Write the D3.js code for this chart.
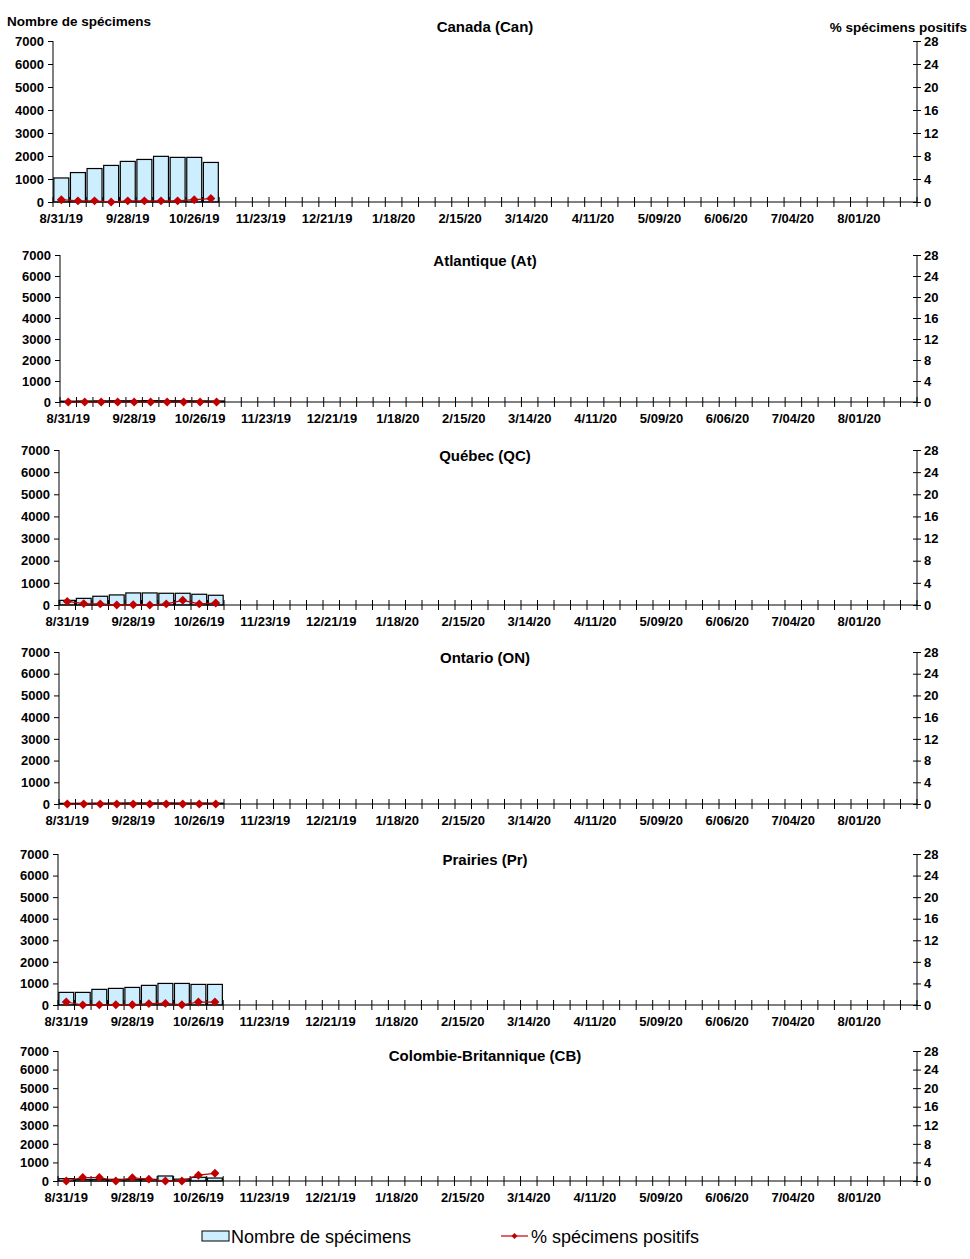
<!DOCTYPE html>
<html lang="fr">
<head>
<meta charset="utf-8">
<title>Spécimens</title>
<script src="https://cdn.jsdelivr.net/npm/d3@7/dist/d3.min.js"></script>
<style>
  body { margin: 0; background: #fff; }
  svg text { font-family: Arial, "Liberation Sans", sans-serif; }
</style>
</head>
<body>
<script>
// week-ending dates (x categories)
var weeks = ["8/31/19","9/07/19","9/14/19","9/21/19","9/28/19","10/05/19","10/12/19","10/19/19","10/26/19","11/02/19",
  "11/09/19","11/16/19","11/23/19","11/30/19","12/07/19","12/14/19","12/21/19","12/28/19","1/04/20","1/11/20",
  "1/18/20","1/25/20","2/01/20","2/08/20","2/15/20","2/22/20","2/29/20","3/07/20","3/14/20","3/21/20",
  "3/28/20","4/04/20","4/11/20","4/18/20","4/25/20","5/02/20","5/09/20","5/16/20","5/23/20","5/30/20",
  "6/06/20","6/13/20","6/20/20","6/27/20","7/04/20","7/11/20","7/18/20","7/25/20","8/01/20","8/08/20",
  "8/15/20","8/22/20"];
var tickLabels = ["8/31/19","9/28/19","10/26/19","11/23/19","12/21/19","1/18/20","2/15/20","3/14/20",
  "4/11/20","5/09/20","6/06/20","7/04/20","8/01/20"];
var leftTicks = [0, 1000, 2000, 3000, 4000, 5000, 6000, 7000];
var rightTicks = [0, 4, 8, 12, 16, 20, 24, 28];

var regions = ["Canada (Can)", "Atlantique (At)", "Québec (QC)", "Ontario (ON)", "Prairies (Pr)", "Colombie-Britannique (CB)"];

// number of specimens (first 10 weeks reported)
var canSpec = [1045, 1280, 1455, 1590, 1765, 1850, 1985, 1940, 1940, 1720];
var atSpec  = [40, 50, 55, 60, 60, 65, 60, 60, 55, 50];
var qcSpec  = [210, 300, 395, 455, 545, 545, 530, 530, 485, 440];
var onSpec  = [30, 35, 40, 45, 50, 50, 50, 45, 45, 40];
var prSpec  = [585, 585, 725, 770, 815, 910, 1000, 1000, 955, 955];
var cbSpec  = [125, 90, 90, 90, 90, 90, 270, 100, 200, 160];

// % positive specimens
var canPos = [0.4, 0.2, 0.2, 0.0, 0.2, 0.2, 0.2, 0.2, 0.4, 0.6];
var atPos  = [0, 0, 0, 0, 0, 0, 0, 0, 0, 0];
var qcPos  = [0.65, 0.25, 0.2, 0.0, 0.05, 0.0, 0.2, 0.85, 0.2, 0.35];
var onPos  = [0, 0, 0, 0, 0, 0, 0, 0, 0, 0];
var prPos  = [0.55, 0.0, 0.05, 0.05, 0.05, 0.25, 0.3, 0.05, 0.55, 0.55];
var cbPos  = [0.0, 0.75, 0.75, 0.0, 0.7, 0.4, 0.0, 0.0, 1.25, 1.65];

var specs = [canSpec, atSpec, qcSpec, onSpec, prSpec, cbSpec];
var poss = [canPos, atPos, qcPos, onPos, prPos, cbPos];

// panel frames: left/right axis x, top (7000) and bottom (0) y, title y
var frames = [
  {l: 53, r: 917, t: 41,   b: 202,  ty: 32},
  {l: 60, r: 917, t: 255,  b: 402,  ty: 266},
  {l: 59, r: 917, t: 450,  b: 605,  ty: 461},
  {l: 59, r: 917, t: 652,  b: 804,  ty: 663},
  {l: 58, r: 917, t: 854,  b: 1005, ty: 865},
  {l: 58, r: 917, t: 1051, b: 1181, ty: 1061}
];

var W = 970, H = 1259;
var svg = d3.select("body").append("svg").attr("width", W).attr("height", H);
var red = "#c00000";
var diamond = d3.symbol().type(d3.symbolSquare).size(40);

regions.forEach(function(name, i) {
  var f = frames[i];
  var g = svg.append("g");

  var x = d3.scaleBand().domain(weeks).range([f.l, f.r]).paddingInner(0.1).paddingOuter(0.05);
  var xb = d3.scaleBand().domain(weeks).range([f.l, f.r]);
  var yL = d3.scaleLinear().domain([0, 7000]).range([f.b, f.t]);
  var yR = d3.scaleLinear().domain([0, 28]).range([f.b, f.t]);

  var spec = specs[i], pos = poss[i];

  // bars
  g.selectAll("rect.bar").data(spec).enter().append("rect")
    .attr("class", "bar")
    .attr("x", function(d, j) { return x(weeks[j]); })
    .attr("width", x.bandwidth())
    .attr("y", function(d) { return yL(d); })
    .attr("height", function(d) { return yL(0) - yL(d); })
    .style("fill", "#cceeff").style("stroke", "#000").style("stroke-width", 1.2);

  // left axis
  var ax = d3.axisLeft(yL).tickValues(leftTicks).tickFormat(d3.format("d")).tickSize(5).tickPadding(4);
  var gl = g.append("g").attr("transform", "translate(" + f.l + ",0)").call(ax);
  gl.select(".domain").attr("d", "M0," + f.t + "V" + f.b).style("stroke", "#000");
  gl.selectAll("text").style("font-size", "13px").style("font-weight", "bold").attr("fill", "#000");

  // right axis
  var ar = d3.axisRight(yR).tickValues(rightTicks).tickSize(4).tickPadding(3);
  var gr = g.append("g").attr("transform", "translate(" + f.r + ",0)").call(ar);
  gr.select(".domain").attr("d", "M0," + f.t + "V" + f.b).style("stroke", "#000");
  gr.selectAll(".tick line").attr("x1", -4);
  gr.selectAll("text").style("font-size", "13px").style("font-weight", "bold").attr("fill", "#000");

  // x axis: ticks at category boundaries, labels every 4th week
  var bounds = weeks.map(function(w) { return xb(w); }).concat([f.r]);
  g.append("line").attr("x1", f.l).attr("x2", f.r).attr("y1", f.b).attr("y2", f.b).style("stroke", "#000");
  g.selectAll("line.xt").data(bounds).enter().append("line")
    .attr("class", "xt")
    .attr("x1", function(d) { return d; }).attr("x2", function(d) { return d; })
    .attr("y1", f.b - 5).attr("y2", f.b + 5).style("stroke", "#000");
  g.selectAll("text.xl").data(tickLabels).enter().append("text")
    .attr("class", "xl")
    .attr("x", function(d) { return xb(d) + xb.bandwidth() / 2; })
    .attr("y", f.b + 21)
    .attr("text-anchor", "middle")
    .style("font-size", "13px").style("font-weight", "bold")
    .text(function(d) { return d; });

  // % positive line
  var line = d3.line()
    .x(function(d, j) { return xb(weeks[j]) + xb.bandwidth() / 2; })
    .y(function(d) { return yR(d); });
  g.append("path").datum(pos).attr("d", line)
    .style("fill", "none").style("stroke", red).style("stroke-width", 1.2);
  g.selectAll("path.mk").data(pos).enter().append("path")
    .attr("class", "mk")
    .attr("d", diamond)
    .attr("transform", function(d, j) {
      return "translate(" + (xb(weeks[j]) + xb.bandwidth() / 2) + "," + yR(d) + ") rotate(45)";
    })
    .style("fill", red);

  // title
  g.append("text").attr("x", 485).attr("y", f.ty).attr("text-anchor", "middle")
    .style("font-size", "15px").style("font-weight", "bold").text(name);
});

// axis titles
svg.append("text").attr("x", 7).attr("y", 26).style("font-size", "13.5px").style("font-weight", "bold")
  .text("Nombre de spécimens");
svg.append("text").attr("x", 967).attr("y", 32).attr("text-anchor", "end")
  .style("font-size", "13.5px").style("font-weight", "bold").text("% spécimens positifs");

// legend
var lg = svg.append("g");
lg.append("rect").attr("x", 202).attr("y", 1231).attr("width", 27).attr("height", 10)
  .style("fill", "#cceeff").style("stroke", "#000");
lg.append("text").attr("x", 231).attr("y", 1243).style("font-size", "18px").text("Nombre de spécimens");
lg.append("line").attr("x1", 501).attr("x2", 528).attr("y1", 1236).attr("y2", 1236)
  .style("stroke", red).style("stroke-width", 1.2);
lg.append("path").attr("d", d3.symbol().type(d3.symbolSquare).size(18))
  .attr("transform", "translate(514.5,1236) rotate(45)").style("fill", red);
lg.append("text").attr("x", 531).attr("y", 1243).style("font-size", "18px").text("% spécimens positifs");
</script>
</body>
</html>
